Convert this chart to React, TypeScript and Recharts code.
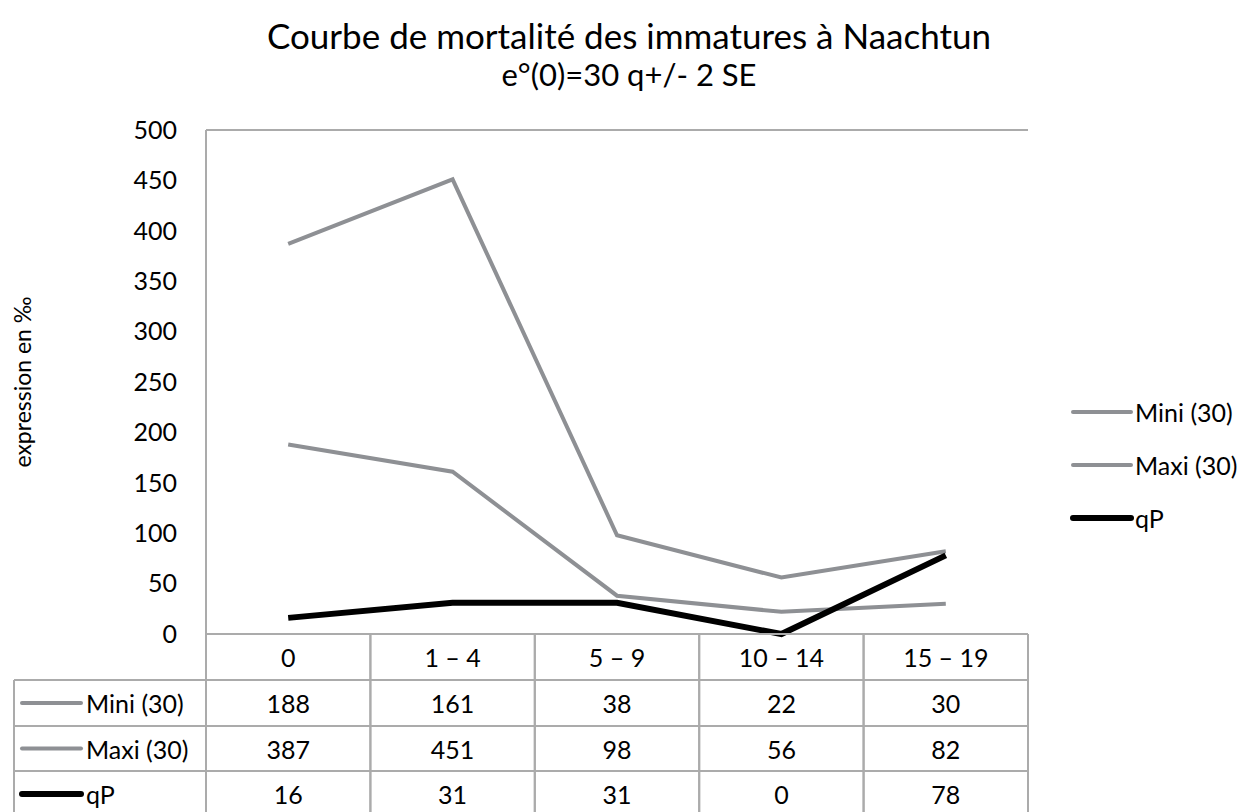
import React from 'react';
import { LineChart, Line, XAxis, YAxis, CartesianGrid, Legend } from 'recharts';

const categories = ['0', '1 – 4', '5 – 9', '10 – 14', '15 – 19'];
const miniValues = [188, 161, 38, 22, 30];
const maxiValues = [387, 451, 98, 56, 82];
const qpValues = [16, 31, 31, 0, 78];
const yTicks = [0, 50, 100, 150, 200, 250, 300, 350, 400, 450, 500];
const seriesNames = ['Mini (30)', 'Maxi (30)', 'qP'];
const titleText = 'Courbe de mortalité des immatures à Naachtun';
const subtitleText = 'e°(0)=30 q+/- 2 SE';
const yAxisLabel = 'expression en ‰';

const W = 1258;
const H = 812;
const PLOT_LEFT = 206;
const PLOT_RIGHT = 1028;
const PLOT_TOP = 130;
const PLOT_BOTTOM = 634;
const Y_AXIS_W = 60;
const BAND = (PLOT_RIGHT - PLOT_LEFT) / categories.length;
const ROW_EDGES = [634, 680, 726, 771, 817];
const TABLE_LEFT = 14;
const GRAY = '#8E9094';
const BLACK = '#000000';
const GRID = '#ABABAB';
const FONT = 'Lato, "Open Sans", sans-serif';
const TEXT_SIZE = 25;

const series = [
  { key: 'mini', name: seriesNames[0], color: GRAY, width: 4, values: miniValues },
  { key: 'maxi', name: seriesNames[1], color: GRAY, width: 4, values: maxiValues },
  { key: 'qp', name: seriesNames[2], color: BLACK, width: 6, values: qpValues },
];

const data = categories.map((c, i) => ({
  cat: c,
  mini: miniValues[i],
  maxi: maxiValues[i],
  qp: qpValues[i],
}));

function TableTick(props: any) {
  const { x, payload, index } = props;
  const l = x - BAND / 2;
  const r = x + BAND / 2;
  const top = ROW_EDGES[0];
  const bottom = ROW_EDGES[ROW_EDGES.length - 1];
  const mid = (a: number, b: number) => (a + b) / 2;
  return (
    <g>
      <line x1={l} x2={l} y1={top} y2={bottom} stroke={GRID} strokeWidth={2} />
      <line x1={r} x2={r} y1={top} y2={bottom} stroke={GRID} strokeWidth={2} />
      {ROW_EDGES.map((ye, k) => (
        <line key={k} x1={l} x2={r} y1={ye} y2={ye} stroke={GRID} strokeWidth={2} />
      ))}
      <text
        x={x}
        y={mid(ROW_EDGES[0], ROW_EDGES[1])}
        textAnchor="middle"
        dominantBaseline="central"
        fontFamily={FONT}
        fontSize={TEXT_SIZE}
        fill="#000"
      >
        {payload.value}
      </text>
      {series.map((s, k) => (
        <text
          key={s.key}
          x={x}
          y={mid(ROW_EDGES[k + 1], ROW_EDGES[k + 2])}
          textAnchor="middle"
          dominantBaseline="central"
          fontFamily={FONT}
          fontSize={TEXT_SIZE}
          fill="#000"
        >
          {s.values[index]}
        </text>
      ))}
      {index === 0 && (
        <g>
          <line x1={TABLE_LEFT} x2={TABLE_LEFT} y1={ROW_EDGES[1]} y2={bottom} stroke={GRID} strokeWidth={2} />
          {ROW_EDGES.slice(1).map((ye, k) => (
            <line key={k} x1={TABLE_LEFT} x2={l} y1={ye} y2={ye} stroke={GRID} strokeWidth={2} />
          ))}
          {series.map((s, k) => {
            const cy = mid(ROW_EDGES[k + 1], ROW_EDGES[k + 2]);
            return (
              <g key={s.key}>
                <line x1={22} x2={81} y1={cy} y2={cy} stroke={s.color} strokeWidth={s.width} strokeLinecap="round" />
                <text
                  x={86}
                  y={cy}
                  textAnchor="start"
                  dominantBaseline="central"
                  fontFamily={FONT}
                  fontSize={TEXT_SIZE}
                  fill="#000"
                >
                  {s.name}
                </text>
              </g>
            );
          })}
        </g>
      )}
    </g>
  );
}

function LegendContent() {
  return (
    <div style={{ fontFamily: FONT, fontSize: TEXT_SIZE, color: '#000' }}>
      {series.map((s) => (
        <div key={s.key} style={{ height: 53, display: 'flex', alignItems: 'center' }}>
          <svg width={64} height={12} style={{ display: 'block' }}>
            <line x1={3} x2={61} y1={6} y2={6} stroke={s.color} strokeWidth={s.width} strokeLinecap="round" />
          </svg>
          <span style={{ marginLeft: 1, whiteSpace: 'nowrap' }}>{s.name}</span>
        </div>
      ))}
    </div>
  );
}

export default function App() {
  return (
    <div style={{ position: 'absolute', left: 0, top: 0, width: W, height: H, background: '#fff', overflow: 'hidden' }}>
      <div
        style={{
          position: 'absolute',
          left: 0,
          top: 13,
          width: W,
          textAlign: 'center',
          fontFamily: FONT,
          fontSize: 35,
          lineHeight: '44px',
          color: '#000',
        }}
      >
        {titleText}
      </div>
      <div
        style={{
          position: 'absolute',
          left: 0,
          top: 54,
          width: W,
          textAlign: 'center',
          fontFamily: FONT,
          fontSize: 31,
          lineHeight: '40px',
          color: '#000',
        }}
      >
        {subtitleText}
      </div>
      <div style={{ position: 'absolute', left: 0, top: 0 }}>
        <LineChart
          width={W}
          height={H}
          data={data}
          margin={{ top: PLOT_TOP, right: W - PLOT_RIGHT, bottom: 0, left: PLOT_LEFT - Y_AXIS_W }}
        >
          <CartesianGrid horizontal vertical={false} stroke={GRID} strokeWidth={2} />
          <XAxis
            dataKey="cat"
            height={H - PLOT_BOTTOM}
            axisLine={false}
            tickLine={false}
            interval={0}
            padding={{ left: BAND / 2, right: BAND / 2 }}
            tick={<TableTick />}
          />
          <YAxis
            yAxisId="left"
            width={Y_AXIS_W}
            domain={[0, 500]}
            ticks={yTicks}
            axisLine={{ stroke: GRID, strokeWidth: 2 }}
            tickLine={false}
            tickSize={0}
            tickMargin={29}
            tick={{ fontFamily: FONT, fontSize: TEXT_SIZE, fill: '#000' }}
            label={{
              value: yAxisLabel,
              angle: -90,
              position: 'left',
              offset: 123,
              style: { fontFamily: FONT, fontSize: 23, fill: '#000', textAnchor: 'middle' },
            }}
          />
          <YAxis
            yAxisId="right"
            orientation="right"
            width={0}
            domain={[0, 500]}
            tick={false}
            tickLine={false}
            axisLine={{ stroke: GRID, strokeWidth: 2 }}
          />
          <Legend
            layout="vertical"
            align="center"
            verticalAlign="middle"
            content={<LegendContent />}
            wrapperStyle={{ left: 1070, top: 385, width: 188 }}
          />
          {series.map((s) => (
            <Line
              key={s.key}
              yAxisId="left"
              type="linear"
              dataKey={s.key}
              name={s.name}
              stroke={s.color}
              strokeWidth={s.width}
              dot={false}
              activeDot={false}
              isAnimationActive={false}
            />
          ))}
        </LineChart>
      </div>
    </div>
  );
}
